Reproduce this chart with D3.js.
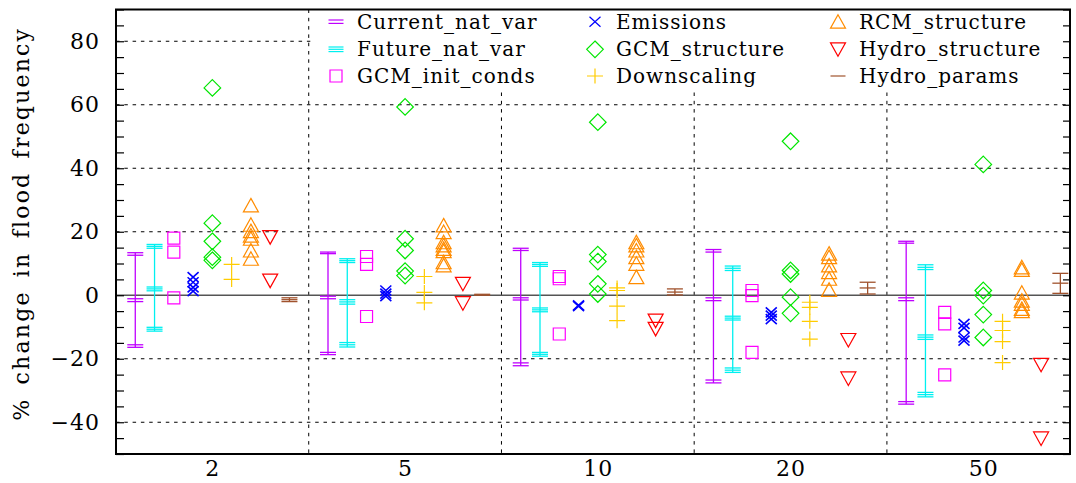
<!DOCTYPE html>
<html lang="en">
<head>
<meta charset="utf-8">
<title>Flood frequency uncertainty</title>
<script src="https://d3js.org/d3.v7.min.js"></script>
<style>
  body { margin: 0; background: #fff; }
  svg { display: block; }
  text { font-family: "DejaVu Serif", "Liberation Serif", serif; fill: #000; }
</style>
</head>
<body>
<div id="chart"></div>
<script>
// return periods (x groups)
const periods = ["2", "5", "10", "20", "50"];

// one entry per return period, values in % change
const currentNatVar = [
  [13.4, 12.6, -1.1, -2.0, -15.6, -16.4],
  [13.6, 13.1, -0.3, -1.1, -18.0, -18.7],
  [14.8, 14.1, -0.8, -1.5, -21.3, -22.2],
  [14.4, 13.6, -0.8, -1.7, -26.7, -27.6],
  [17.0, 16.4, -0.8, -1.7, -33.5, -34.3]
];
const futureNatVar = [
  [16.0, 15.4, 14.8, 2.6, 2.0, 1.4, -10.1, -10.7, -11.3],
  [11.5, 10.9, 10.3, -1.4, -2.1, -2.8, -14.9, -15.6, -16.3],
  [10.3, 9.7, 9.1, -4.0, -4.6, -5.2, -18.0, -18.6, -19.2],
  [9.2, 8.5, 7.8, -6.6, -7.2, -7.8, -22.9, -23.6, -24.3],
  [9.6, 8.8, 8.1, -12.5, -13.2, -13.9, -30.6, -31.3, -32.0]
];
const gcmInitConds = [
  [18.0, 13.6, -0.8],
  [12.2, 9.7, -6.7],
  [5.9, 5.2, -12.2],
  [1.5, -0.1, -18.0],
  [-5.4, -9.0, -25.1]
];
const emissions = [
  [5.7, 4.1, 2.5, 1.3],
  [1.5, 0.5, -0.3],
  [-3.2, -3.4],
  [-5.4, -6.4, -7.5],
  [-9.0, -10.3, -13.3, -14.3]
];
const gcmStructure = [
  [65.3, 22.7, 17.0, 12.0, 11.0],
  [59.3, 17.8, 14.1, 7.6, 6.2],
  [54.5, 12.8, 10.6, 3.6, 0.4],
  [48.5, 7.8, 6.7, -0.6, -5.7],
  [41.2, 1.5, -0.1, -6.1, -13.3]
];
const downscaling = [
  [9.7, 5.0],
  [5.9, 0.9, -2.4],
  [2.3, 1.5, -3.4, -8.0],
  [-2.2, -3.8, -8.2, -13.8],
  [-8.2, -11.1, -14.6, -21.2]
];
const rcmStructure = [
  [28.3, 22.2, 20.2, 18.8, 17.8, 14.1, 11.5],
  [22.0, 19.9, 16.7, 15.7, 14.6, 13.9, 10.4, 9.4],
  [16.7, 15.7, 14.1, 12.0, 9.9, 5.7],
  [13.1, 12.0, 9.4, 7.3, 5.2, 1.7],
  [8.8, 8.0, 0.8, -1.7, -2.7, -4.3, -5.0]
];
const hydroStructure = [
  [18.3, 4.6],
  [3.6, -2.5],
  [-8.0, -10.6],
  [-14.1, -26.2],
  [-21.9, -45.1]
];
const hydroParams = [
  [-0.8, -1.4, -2.0],
  [0.3, 0.0],
  [2.0, 1.0, 0.1],
  [4.1, 2.3, 0.4],
  [6.9, 3.8, 0.6]
];

const yTickLabels = [-40, -20, 0, 20, 40, 60, 80];

// series in plotting order: offset within group comes from index
const series = [
  { name: "Current_nat_var", color: "#bf00ff", shape: "bar", lines: 2, values: currentNatVar },
  { name: "Future_nat_var", color: "#00f0f0", shape: "bar", lines: 3, values: futureNatVar },
  { name: "GCM_init_conds", color: "#ff00ff", shape: "square", values: gcmInitConds },
  { name: "Emissions", color: "#0000ff", shape: "cross", values: emissions },
  { name: "GCM_structure", color: "#00e600", shape: "diamond", values: gcmStructure },
  { name: "Downscaling", color: "#ffcc00", shape: "plus", values: downscaling },
  { name: "RCM_structure", color: "#ff8c00", shape: "up", values: rcmStructure },
  { name: "Hydro_structure", color: "#ff0000", shape: "down", values: hydroStructure },
  { name: "Hydro_params", color: "#a0522d", shape: "bar", lines: 1, values: hydroParams }
];

const width = 1076, height = 483;
const margin = { top: 9.5, right: 6, bottom: 29, left: 116 };
const innerW = width - margin.left - margin.right;
const innerH = height - margin.top - margin.bottom;

const svg = d3.select("#chart").append("svg")
  .attr("width", width)
  .attr("height", height);

const x = d3.scaleLinear().domain([0.5, 5.45]).range([0, innerW]);
const y = d3.scaleLinear().domain([-50, 90]).range([innerH, 0]);

const g = svg.append("g").attr("transform", `translate(${margin.left},${margin.top})`);

// dotted grid
g.append("g").selectAll("line")
  .data([-40, -20, 20, 40, 60, 80])
  .join("line")
  .attr("x1", 0).attr("x2", innerW)
  .attr("y1", d => y(d)).attr("y2", d => y(d))
  .attr("stroke", "#000").attr("stroke-width", 1)
  .attr("stroke-dasharray", "3.5,4.8");

g.append("g").selectAll("line")
  .data([1.5, 2.5, 3.5, 4.5])
  .join("line")
  .attr("x1", d => x(d)).attr("x2", d => x(d))
  .attr("y1", 0).attr("y2", innerH)
  .attr("stroke", "#000").attr("stroke-width", 1)
  .attr("stroke-dasharray", "3.5,4.8");

// zero line
g.append("line")
  .attr("x1", 0).attr("x2", innerW)
  .attr("y1", y(0)).attr("y2", y(0))
  .attr("stroke", "#555").attr("stroke-width", 1.6);

// marker path builders, centred at 0,0
function markerPath(shape) {
  const p = d3.path();
  if (shape === "square") {
    p.rect(-6, -6, 12, 12);
  } else if (shape === "cross") {
    p.moveTo(-5.5, -5); p.lineTo(5.5, 5);
    p.moveTo(-5.5, 5); p.lineTo(5.5, -5);
  } else if (shape === "diamond") {
    p.moveTo(0, -8.3); p.lineTo(8.3, 0); p.lineTo(0, 8.3); p.lineTo(-8.3, 0); p.closePath();
  } else if (shape === "plus") {
    p.moveTo(-8, 0); p.lineTo(8, 0);
    p.moveTo(0, -7.5); p.lineTo(0, 7.5);
  } else if (shape === "up") {
    p.moveTo(0, -7); p.lineTo(7.5, 6.5); p.lineTo(-7.5, 6.5); p.closePath();
  } else if (shape === "down") {
    p.moveTo(0, 7); p.lineTo(7.5, -6.5); p.lineTo(-7.5, -6.5); p.closePath();
  }
  return p.toString();
}

const marks = g.append("g");
series.forEach((s, si) => {
  const offset = (si - 4) * 0.1;
  s.values.forEach((vals, gi) => {
    const cx = x(gi + 1 + offset);
    if (s.shape === "bar") {
      marks.append("line")
        .attr("x1", cx).attr("x2", cx)
        .attr("y1", y(d3.max(vals))).attr("y2", y(d3.min(vals)))
        .attr("stroke", s.color).attr("stroke-width", 1.3);
      marks.selectAll(null)
        .data(vals)
        .join("line")
        .attr("x1", cx - 8).attr("x2", cx + 8)
        .attr("y1", d => y(d)).attr("y2", d => y(d))
        .attr("stroke", s.color).attr("stroke-width", 1.3);
    } else {
      marks.selectAll(null)
        .data(vals)
        .join("path")
        .attr("transform", d => `translate(${cx},${y(d)})`)
        .attr("d", markerPath(s.shape))
        .attr("fill", "none")
        .attr("stroke", s.color)
        .attr("stroke-width", s.shape === "cross" ? 1.6 : 1.2);
    }
  });
});

// legend with white box
const legendX = x(1.5) + 2;
g.append("rect")
  .attr("x", legendX).attr("y", 0)
  .attr("width", innerW - legendX - 3).attr("height", 82)
  .attr("fill", "#fff");

const colX = [220, 479, 722];
const rowY = [12.2, 39.8, 66.5];
const legend = g.append("g");
series.forEach((s, i) => {
  const col = Math.floor(i / 3), row = i % 3;
  const item = legend.append("g")
    .attr("transform", `translate(${colX[col]},${rowY[row]})`);
  if (s.shape === "bar") {
    const n = s.lines;
    d3.range(n).forEach(k => {
      const dy = n === 1 ? 0 : (k - (n - 1) / 2) * (n === 2 ? 3.4 : 2.3);
      item.append("line")
        .attr("x1", -7.5).attr("x2", 7.5)
        .attr("y1", dy).attr("y2", dy)
        .attr("stroke", s.color).attr("stroke-width", 1.2);
    });
  } else {
    item.append("path")
      .attr("d", markerPath(s.shape))
      .attr("fill", "none")
      .attr("stroke", s.color)
      .attr("stroke-width", 1.2);
  }
  item.append("text")
    .attr("x", 21).attr("y", 7)
    .attr("font-size", 20)
    .attr("letter-spacing", 1)
    .text(s.name);
});

// y ticks: minor every 5, both sides
const minorTicks = d3.range(-50, 91, 5);
g.append("g")
  .call(d3.axisLeft(y).tickValues(minorTicks).tickSize(-8).tickFormat(""))
  .call(a => a.select(".domain").remove())
  .selectAll("line").attr("stroke-width", 1.2);
g.append("g")
  .attr("transform", `translate(${innerW},0)`)
  .call(d3.axisRight(y).tickValues(minorTicks).tickSize(-7).tickFormat(""))
  .call(a => a.select(".domain").remove())
  .selectAll("line").attr("stroke-width", 1.2);

// y labels
g.append("g")
  .call(d3.axisLeft(y).tickValues(yTickLabels).tickSize(0).tickPadding(16)
    .tickFormat(d => d < 0 ? "\u2212" + Math.abs(d) : String(d)))
  .call(a => a.select(".domain").remove())
  .selectAll("text")
  .attr("font-family", "DejaVu Serif, serif")
  .attr("font-size", 22)
  .attr("letter-spacing", 1)
  .attr("fill", "#000");

// x labels
g.append("g")
  .attr("transform", `translate(0,${innerH})`)
  .call(d3.axisBottom(x).tickValues([1, 2, 3, 4, 5]).tickSize(0).tickPadding(6)
    .tickFormat((d, i) => periods[i]))
  .call(a => a.select(".domain").remove())
  .selectAll("text")
  .attr("font-family", "DejaVu Serif, serif")
  .attr("font-size", 22)
  .attr("letter-spacing", 1)
  .attr("fill", "#000");

// frame
g.append("rect")
  .attr("width", innerW).attr("height", innerH)
  .attr("fill", "none").attr("stroke", "#000").attr("stroke-width", 2);

// y title
svg.append("text")
  .attr("transform", `translate(29,${margin.top + innerH / 2 - 8}) rotate(-90)`)
  .attr("text-anchor", "middle")
  .attr("font-size", 22)
  .attr("letter-spacing", 2.2)
  .attr("word-spacing", 4)
  .text("% change in flood frequency");
</script>
</body>
</html>
